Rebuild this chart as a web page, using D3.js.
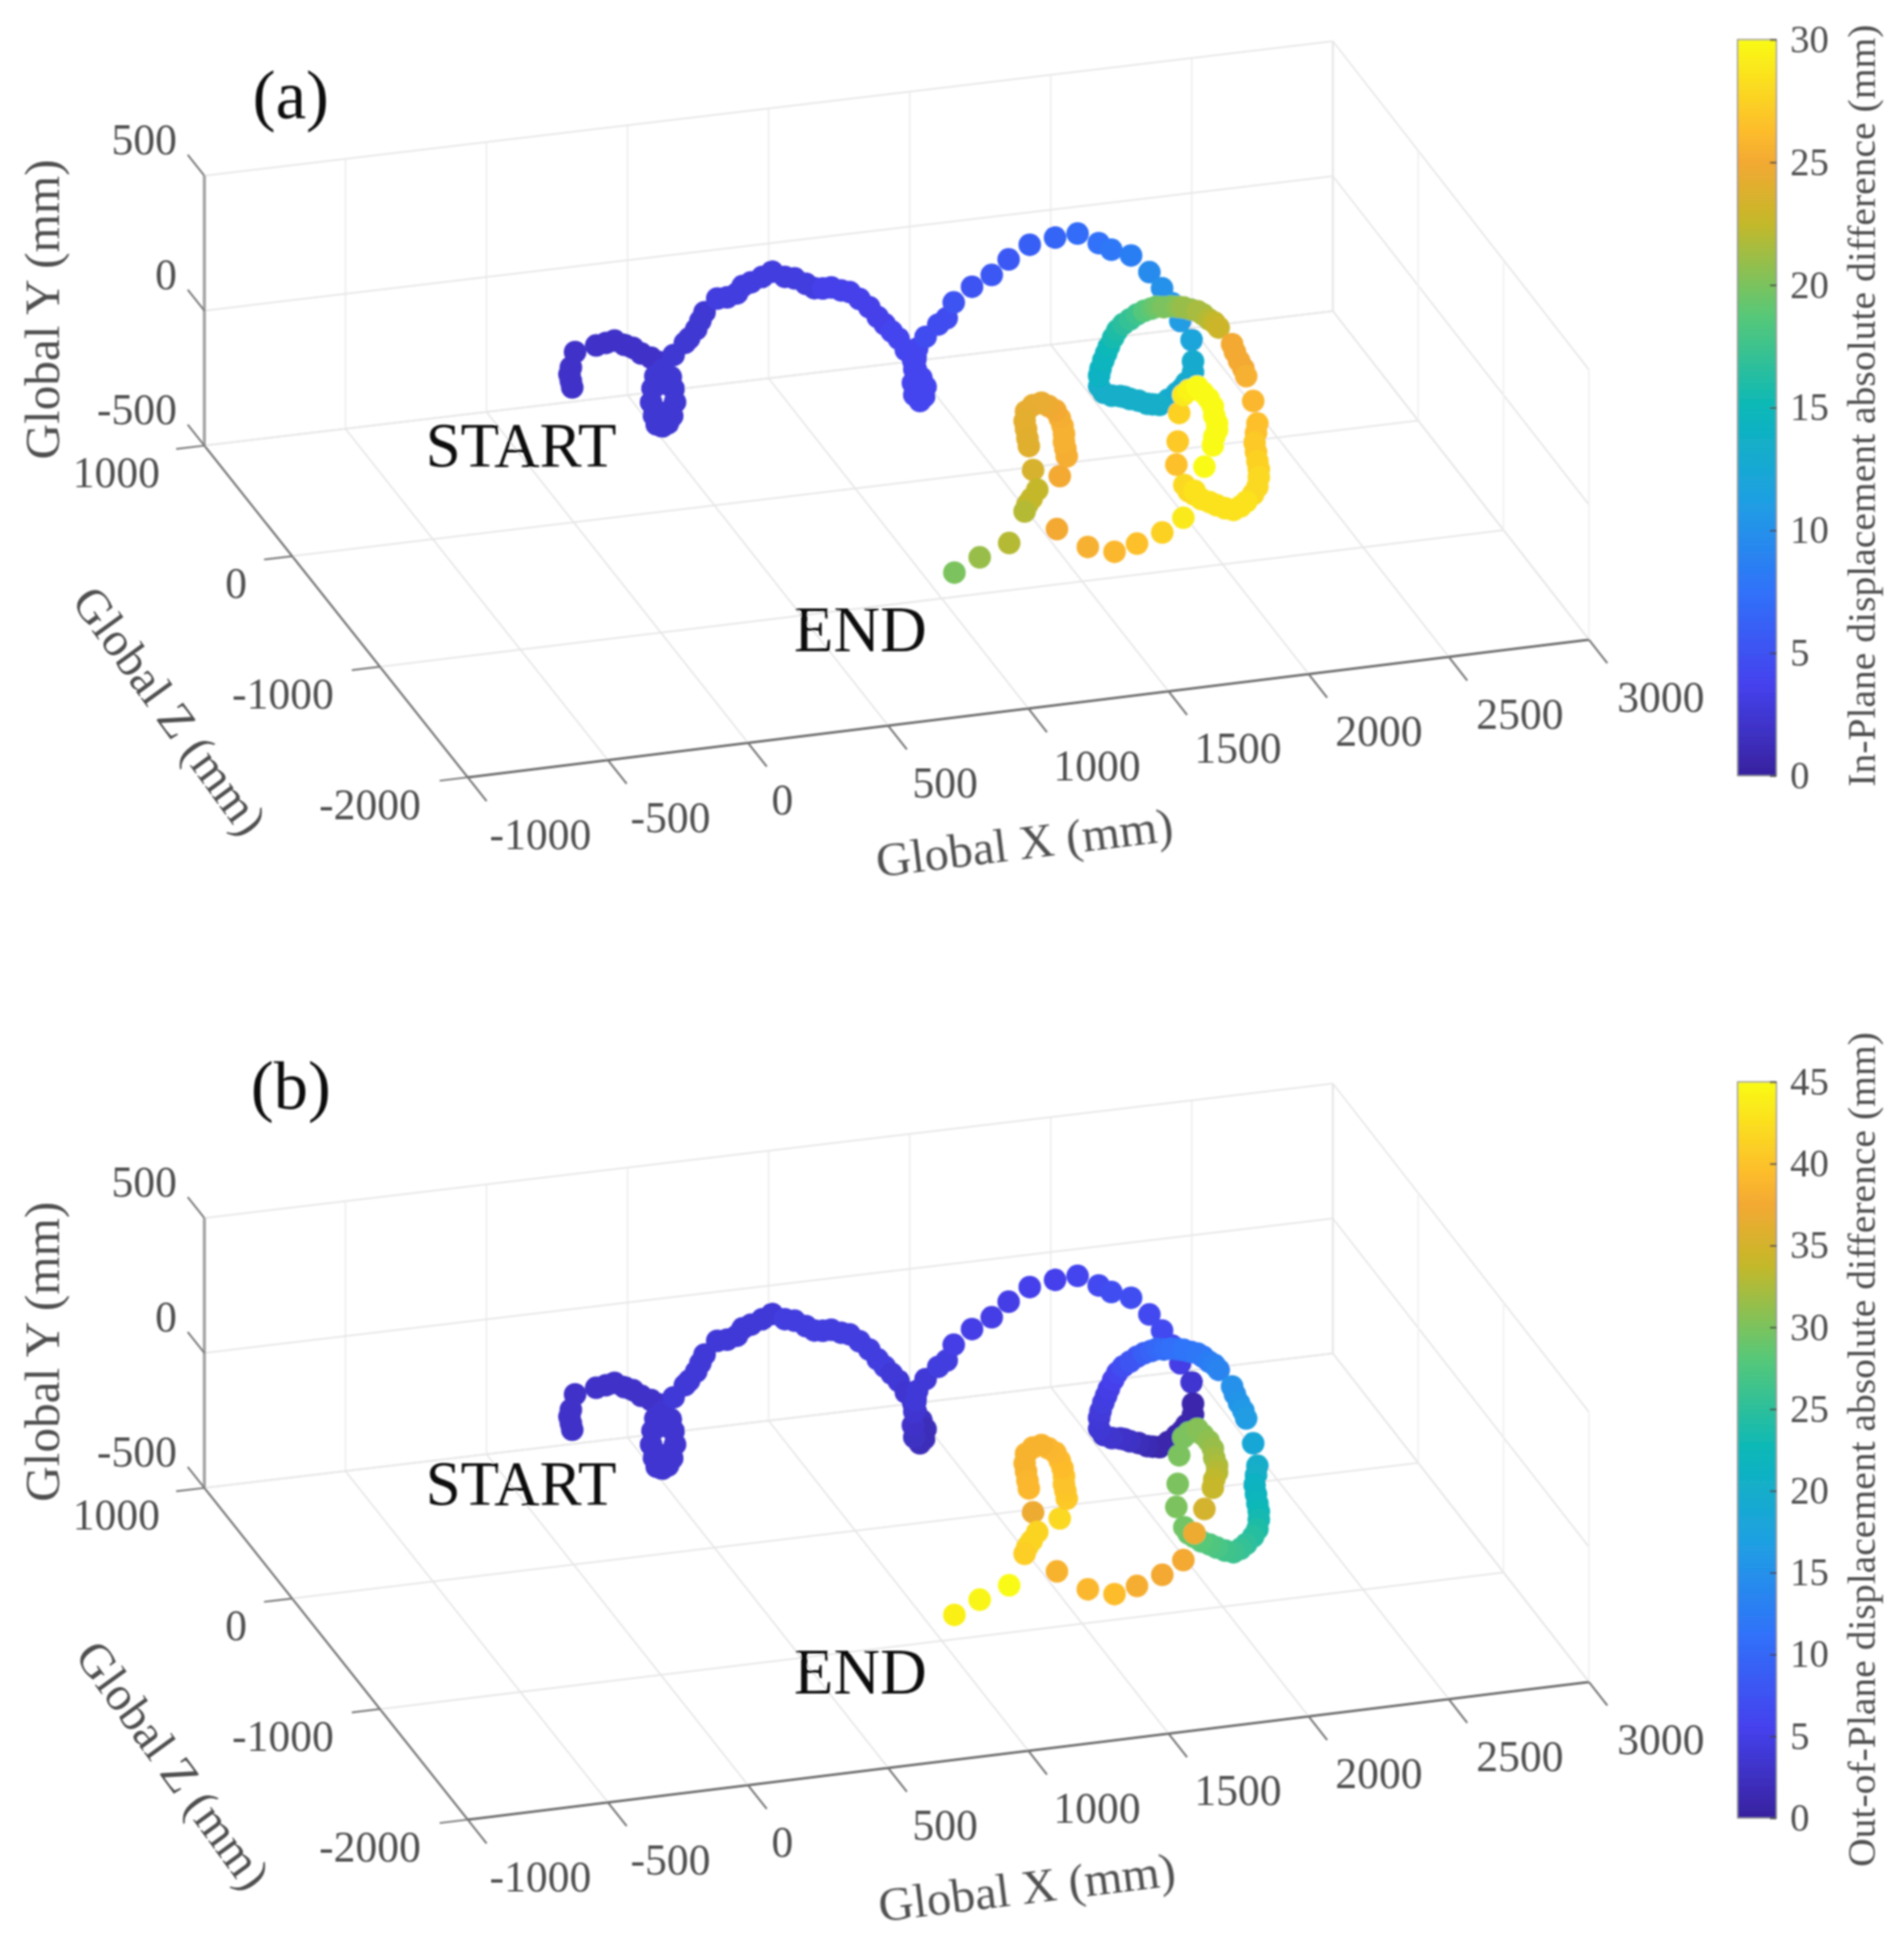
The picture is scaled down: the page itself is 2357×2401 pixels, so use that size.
<!DOCTYPE html>
<html>
<head>
<meta charset="utf-8">
<script src="https://cdnjs.cloudflare.com/ajax/libs/d3/7.8.5/d3.min.js"></script>
<style>
  body { margin: 0; background: #fff; }
  text { font-family: "Liberation Serif", "Times New Roman", serif; }
</style>
</head>
<body>
<svg id="chart" width="2357" height="2401"></svg>
<script>
// axis ticks
const xTicks = [-1000, -500, 0, 500, 1000, 1500, 2000, 2500, 3000];
const yTicks = [-500, 0, 500];
const zTicks = [1000, 0, -1000, -2000];

// Trajectory, mm. One view cannot give depth, so Z is
// only a rough guess per stretch of the path.
const stretchZ = [0, -250, -750, -1000];

// the three hops, start to the cyan loop
const hopsX = [-5, -10, -15, -10, 5, 80, 115, 145, 180, 210, 240, 275, 305,
  315, 345, 355, 360, 350, 335, 315, 295, 285, 275, 280, 290, 310, 320,
  355, 395, 410, 435, 450, 465, 510, 545, 580, 600, 630, 670, 705,
  750, 785, 825, 855, 885, 915, 950, 980, 1015, 1050, 1080, 1105, 1130, 1155, 1180, 1205, 1215, 1235, 1250, 1245, 1230, 1210, 1205, 1210, 1215, 1220,
  1250, 1295, 1325, 1350, 1415, 1485, 1545, 1620, 1710, 1790, 1865, 1910, 1980, 2045, 2090, 2125, 2155, 2195, 2200, 2200];
const hopsY = [0, 25, 50, 75, 130, 145, 150, 155, 135, 120, 95, 75, 55,
  25, -5, -50, -100, -150, -175, -185, -175, -140, -90, -40, 5, -25, -135,
  75, 115, 130, 160, 190, 220, 265, 265, 275, 300, 310, 325, 340,
  315, 305, 280, 260, 255, 255, 240, 230, 200, 165, 125, 95, 65, 35, -10, -50, -85, -120, -155, -190, -205, -180, -135, -85, -45, -10,
  30, 70, 90, 145, 195, 230, 280, 325, 340, 345, 300, 270, 240, 170, 105, 45, -25, -100, -180, -220];
const hopsInPlane = [2, 2, 2, 2, 2, 2, 2, 2, 2, 2, 2, 2, 2,
  2.5, 2.5, 2.5, 2.5, 2.5, 2.5, 2.5, 2.5, 2.5, 2.5, 2.5, 2.5, 2.5, 2.5,
  2.5, 2.5, 2.5, 2.5, 2.5, 2.5, 3, 3, 3, 3, 3, 3, 3,
  3, 3, 3, 3, 3.5, 3.5, 3.5, 3.5, 3.5, 3.5, 3.5, 3.5, 4, 4, 4, 4, 4, 4, 4, 4, 4, 4, 4, 4, 4, 4,
  4.5, 4.5, 4.5, 5, 5, 5.5, 5.5, 6, 6.5, 7, 7.5, 8, 8.5, 9.5, 10, 10.5, 11, 12, 13, 13];
const hopsOutPlane = [3, 3, 3, 3, 3, 3, 3, 3, 3, 3, 3, 3, 3,
  3.5, 3.5, 3.5, 3.5, 3.5, 3.5, 3.5, 3.5, 3.5, 3.5, 3.5, 3.5, 3.5, 3.5,
  4, 4, 4, 4, 4, 4, 4, 4, 4, 4, 4, 4, 4,
  4.5, 4.5, 4.5, 4.5, 4.5, 4.5, 4.5, 4.5, 4.5, 4.5, 4.5, 4.5, 4, 4, 3.5, 3.5, 3, 2.5, 2, 2, 2, 2.5, 3, 3.5, 4, 4,
  4, 4.5, 4.5, 5, 5, 5, 5, 5.5, 5.5, 6, 6.5, 7, 7, 6.5, 6.5, 6, 5, 3.5, 1, 1];

// closed loop, cyan to olive
const loopX = [2100, 2085, 2065, 2035, 2005, 1980, 1960, 1930, 1900, 1880, 1865, 1835, 1805, 1790, 1790, 1795, 1805, 1815, 1825,
  1840, 1855, 1875, 1900, 1925, 1950, 1975, 1995, 2020, 2045, 2070, 2090, 2115, 2140, 2160, 2180, 2200, 2215];
const loopY = [-145, -165, -180, -200, -215, -210, -205, -190, -180, -170, -165, -160, -145, -120, -80, -55, -25, 0, 25,
  55, 80, 100, 115, 130, 140, 145, 150, 145, 145, 140, 135, 125, 115, 100, 80, 65, 45];
const loopInPlane = [13, 13, 13, 13, 13.5, 13.5, 13.5, 13.5, 13.5, 13.5, 13.5, 13.5, 13.5, 13.5, 14, 14, 14.5, 14.5, 15,
  15.5, 16, 16.5, 17, 17.5, 18.5, 19, 19.5, 20, 20, 20.5, 21, 21, 21.5, 21.5, 22, 22.5, 23];
const loopOutPlane = [1, 1, 1, 1, 1, 1, 1.5, 2, 2.5, 2.8, 3, 3.2, 3.5, 3.8, 4, 4.2, 4.5, 4.8, 5,
  5.5, 6, 7, 7.5, 8, 9, 9.5, 10, 10.5, 11, 11, 11.5, 11.5, 12, 12, 12.5, 13, 13.5];

// outer arc on the right
const outerX = [2110, 2120, 2135, 2150, 2160, 2185, 2200, 2195, 2190, 2195, 2200, 2205, 2205, 2200, 2185, 2160, 2140, 2115, 2085, 2055, 2030, 2000, 1975, 1955, 1940];
const outerY = [200, 170, 135, 105, 75, -20, -105, -140, -175, -210, -245, -275, -305, -340, -365, -390, -405, -415, -405, -390, -375, -360, -340, -325, -300];
const outerInPlane = [25, 25, 25, 25, 25.5, 26, 26.5, 26.5, 27, 27, 27.5, 27.5, 28, 28, 28, 28.5, 28.5, 28.5, 28.5, 28.5, 28.5, 28.5, 28.5, 28, 28];
const outerOutPlane = [15, 15, 15.5, 16, 16.5, 18.5, 20, 20.5, 21, 21.5, 22, 22.5, 23, 24, 24.5, 25, 25.5, 26, 26.5, 27, 27.5, 28, 28.5, 29, 29.5];

// inner turn and the tail to END
const innerX = [1835, 1840, 1845, 1860, 1880, 1910, 1930, 1950, 1965, 1970, 1980, 1980, 1970, 1965, 1935, 1900, 1860, 1785, 1695, 1615, 1520, 1410,
  1420, 1445, 1440, 1435, 1435, 1430, 1420, 1405, 1380, 1355, 1325, 1300, 1295, 1300, 1305, 1310, 1325, 1340, 1320, 1305, 1295, 1240, 1135, 1045];
const innerY = [-110, -25, 80, 145, 160, 170, 145, 120, 90, 55, 25, 0, -25, -55, -130, -215, -310, -355, -385, -405, -375, -295,
  -100, -30, 0, 25, 55, 85, 115, 145, 165, 180, 175, 155, 120, 90, 55, 25, -65, -140, -170, -190, -215, -325, -365, -410];
const innerInPlane = [26.5, 27, 27.5, 29, 29.5, 30, 30, 30, 30, 30, 30, 30, 30, 30, 30, 28.5, 29, 27.5, 26.5, 26, 25.5, 25,
  25, 25.3, 25.3, 25.5, 25.5, 25.5, 25.3, 25, 24.8, 24.5, 24.4, 24.3, 24.2, 24.2, 24.1, 24, 23.5, 22.5, 22.5, 22.5, 22, 22, 21, 20];
const innerOutPlane = [30, 30, 30, 30, 30, 30.5, 30.5, 31, 31.5, 32, 32.5, 33, 33.5, 34, 35, 37, 37.5, 37.5, 38, 39.5, 39, 38.5,
  42, 40.5, 40.3, 40, 40, 39.5, 39.3, 39, 38.8, 38.5, 38.5, 38.5, 38.5, 38.5, 38.8, 39, 37, 41.5, 41.5, 41.5, 41, 45, 44.5, 44];

// parula, slightly pushed towards the reference's saturated look
const parulaStops = [0, 0.125, 0.25, 0.375, 0.5, 0.625, 0.75, 0.833, 0.875, 1];
const parulaColors = ["#38229e", "#4542ee", "#3072fa", "#1fa0e2", "#0bb8b8", "#57c878", "#c4b82a", "#f3a932", "#fdbc2c", "#f9fb15"];

const inPlaneTicks = [0, 5, 10, 15, 20, 25, 30];
const outPlaneTicks = [0, 5, 10, 15, 20, 25, 30, 35, 40, 45];

function buildPath(valueLists) {
  var stretches = [[hopsX, hopsY], [loopX, loopY], [outerX, outerY], [innerX, innerY]];
  var pts = [];
  stretches.forEach(function(s, k) {
    s[0].forEach(function(x, i) {
      pts.push({x: x, y: s[1][i], z: stretchZ[k], v: valueLists[k][i]});
    });
  });
  return pts;
}

const svg = d3.select("#chart");

// the reference is a soft, upscaled scan
svg.append("defs").append("filter")
  .attr("id", "soft")
  .attr("x", "-5%").attr("y", "-5%").attr("width", "110%").attr("height", "110%")
  .append("feGaussianBlur").attr("stdDeviation", 0.9);

const grad = svg.select("defs").append("linearGradient")
  .attr("id", "parula")
  .attr("x1", 0).attr("y1", 1).attr("x2", 0).attr("y2", 0);
grad.selectAll("stop").data(parulaStops).enter().append("stop")
  .attr("offset", function(d) { return d; })
  .attr("stop-color", function(d, i) { return parulaColors[i]; });

const parula = d3.scaleLinear().domain(parulaStops).range(parulaColors).clamp(true);

// 3D box: each axis runs along its own screen vector; the front edge is a
// touch shorter than the back one in the picture, hence the skew term
const xFrac = d3.scaleLinear().domain([-1000, 3000]).range([0, 1]);
const yFrac = d3.scaleLinear().domain([-500, 500]).range([0, 1]);
const zFrac = d3.scaleLinear().domain([1000, -2000]).range([0, 1]);
const corner = [253, 551.5];
const xVec = [1397, -166.5];
const yVec = [0, -334];
const zVec = [326, 410.5];
const skew = [-9, -3.8];

function project(x, y, z) {
  var u = xFrac(x), v = yFrac(y), w = zFrac(z);
  return [
    corner[0] + u * xVec[0] + v * yVec[0] + w * zVec[0] + u * w * skew[0],
    corner[1] + u * xVec[1] + v * yVec[1] + w * zVec[1] + u * w * skew[1]
  ];
}

function seg(g, a, b, color, width) {
  var p = project(a[0], a[1], a[2]), q = project(b[0], b[1], b[2]);
  g.append("line")
    .attr("x1", p[0]).attr("y1", p[1])
    .attr("x2", q[0]).attr("y2", q[1])
    .attr("stroke", color)
    .attr("stroke-width", width);
}

function drawPanel(cfg) {
  var g = svg.append("g")
    .attr("transform", "translate(0," + cfg.dy + ")")
    .attr("filter", "url(#soft)");

  var gridColor = "#e6e6e6";
  var faintColor = "#f1f1f1";
  var xMin = -1000, xMax = 3000, yMin = -500, yMax = 500, zMin = -2000, zMax = 1000;

  // back wall, right wall, floor
  xTicks.forEach(function(x) {
    seg(g, [x, yMin, zMax], [x, yMax, zMax], x == xMax ? gridColor : "#eeeeee", x == xMax ? 2.6 : 2);
    seg(g, [x, yMin, zMax], [x, yMin, zMin], gridColor, 2);
  });
  yTicks.forEach(function(y) {
    seg(g, [xMin, y, zMax], [xMax, y, zMax], gridColor, 2);
    seg(g, [xMax, y, zMax], [xMax, y, zMin], gridColor, 2);
  });
  zTicks.forEach(function(z) {
    if (z != zMax) seg(g, [xMax, yMin, z], [xMax, yMax, z], faintColor, 2);
    seg(g, [xMin, yMin, z], [xMax, yMin, z], gridColor, 2);
  });

  // axis lines and ticks
  var axisColor = "#757575";
  seg(g, [xMin, yMin, zMin], [xMax, yMin, zMin], "#6a6a6a", 3);
  seg(g, [xMin, yMin, zMax], [xMin, yMin, zMin], axisColor, 2.6);
  seg(g, [xMin, yMin, zMax], [xMin, yMax, zMax], "#a6a6a6", 4);
  xTicks.forEach(function(x) { seg(g, [x, yMin, zMin], [x, yMin, zMin - 215], axisColor, 2.4); });
  yTicks.forEach(function(y) { seg(g, [xMin, y, zMax], [xMin, y, zMax + 190], axisColor, 2.2); });
  zTicks.forEach(function(z) { seg(g, [xMin, yMin, z], [xMin - 100, yMin, z], axisColor, 2.2); });

  // tick labels
  var tickColor = "#505050";
  function label(text, pos, dx, dy, anchor) {
    g.append("text")
      .attr("x", pos[0] + dx).attr("y", pos[1] + dy)
      .attr("dy", "0.35em")
      .attr("text-anchor", anchor)
      .attr("font-size", 54)
      .attr("fill", tickColor)
      .text(text);
  }
  xTicks.forEach(function(x) { label(x, project(x, yMin, zMin), 27 + 8 * xFrac(x), 70, "start"); });
  yTicks.forEach(function(y) { label(y, project(xMin, y, zMax), -34, -45, "end"); });
  zTicks.forEach(function(z) { label(z, project(xMin, yMin, z), -55 - 3 * zFrac(z), 33, "end"); });

  // axis titles
  function title(text, x, y, angle, size) {
    g.append("text")
      .attr("transform", "translate(" + x + "," + y + ") rotate(" + angle + ")")
      .attr("dy", "0.35em")
      .attr("text-anchor", "middle")
      .attr("font-size", size)
      .attr("fill", tickColor)
      .text(text);
  }
  title("Global Y (mm)", 52, 383, -90, 61);
  title("Global X (mm)", cfg.xTitle[0], cfg.xTitle[1], -7, 60);
  title("Global Z (mm)", cfg.zTitle[0], cfg.zTitle[1], 54, 60);

  // path, in order so that later turns sit on top
  var color = d3.scaleLinear().domain([0, cfg.max]).range([0, 1]);
  g.append("g").selectAll("circle")
    .data(cfg.points)
    .enter()
    .append("circle")
    .attr("cx", function(d) { return project(d.x, d.y, d.z)[0]; })
    .attr("cy", function(d) { return project(d.x, d.y, d.z)[1]; })
    .attr("r", 14)
    .attr("fill", function(d) { return parula(color(d.v)); });

  // annotations
  function note(text, x, y, size) {
    g.append("text")
      .attr("x", x).attr("y", y)
      .attr("dy", "0.35em")
      .attr("text-anchor", "middle")
      .attr("font-size", size)
      .attr("fill", "#111")
      .text(text);
  }
  note(cfg.letter, 360, cfg.letterY, 85);
  note("START", 645, cfg.startY, 78);
  note("END", 1065, 778, 80);

  // colorbar
  var barTop = 49, barBottom = 960, barLeft = 2151, barWidth = 48;
  var barScale = d3.scaleLinear().domain([0, cfg.max]).range([barBottom, barTop]);
  g.append("rect")
    .attr("x", barLeft).attr("y", barTop)
    .attr("width", barWidth).attr("height", barBottom - barTop)
    .attr("fill", "url(#parula)")
    .attr("stroke", "#8c8c8c")
    .attr("stroke-width", 1.5);

  var barAxis = d3.axisRight(barScale)
    .tickValues(cfg.ticks)
    .tickSizeInner(-8)
    .tickSizeOuter(0)
    .tickPadding(17);
  var axisG = g.append("g")
    .attr("transform", "translate(" + (barLeft + barWidth) + ",0)")
    .call(barAxis);
  axisG.select(".domain").remove();
  axisG.selectAll("line").attr("stroke", "#444").attr("stroke-width", 2);
  axisG.selectAll("text")
    .attr("font-family", "Liberation Serif")
    .attr("font-size", 48)
    .attr("fill", tickColor);

  g.append("text")
    .attr("transform", "translate(2304," + cfg.barTitleY + ") rotate(-90)")
    .attr("dy", "0.35em")
    .attr("text-anchor", "middle")
    .attr("font-size", 49)
    .attr("fill", tickColor)
    .text(cfg.barTitle);
}

drawPanel({
  dy: 0,
  letter: "(a)",
  letterY: 116,
  startY: 550,
  max: 30,
  ticks: inPlaneTicks,
  points: buildPath([hopsInPlane, loopInPlane, outerInPlane, innerInPlane]),
  barTitle: "In-Plane displacement absolute difference (mm)",
  barTitleY: 502,
  xTitle: [1268, 1042],
  zTitle: [211, 879]
});

drawPanel({
  dy: 1290,
  letter: "(b)",
  letterY: 52,
  startY: 545,
  max: 45,
  ticks: outPlaneTicks,
  points: buildPath([hopsOutPlane, loopOutPlane, outerOutPlane, innerOutPlane]),
  barTitle: "Out-of-Plane displacement absolute difference (mm)",
  barTitleY: 504,
  xTitle: [1271, 1045],
  zTitle: [215, 894]
});
</script>
</body>
</html>
